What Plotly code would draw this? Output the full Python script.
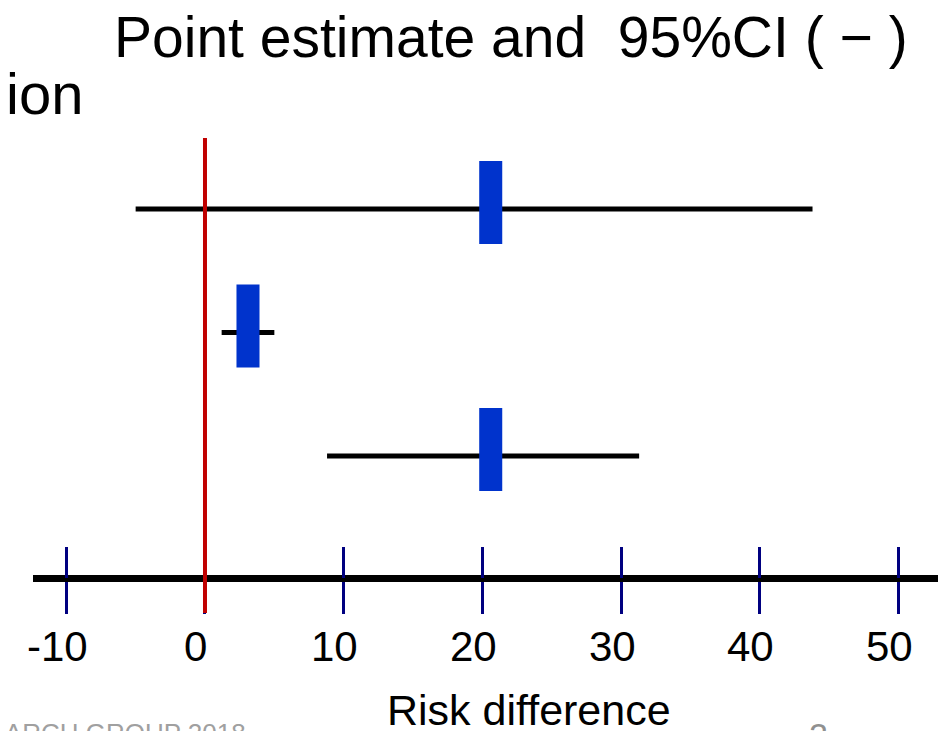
import plotly.graph_objects as go

# ---- data ----
rows = [0, 1, 2]
estimate = [20.6, 3.1, 20.6]
ci_low = [-5.0, 1.2, 8.8]
ci_high = [43.8, 5.0, 31.3]
tick_vals = [-10, 0, 10, 20, 30, 40, 50]
tick_labels = ["-10", "0", "10", "20", "30", "40", "50"]
null_value = 0

FONT = "Liberation Sans, Arial, sans-serif"
W, H = 946, 731
OFF = 8  # page body margin


def fx(px):
    return (px - OFF) / W


def fy(py):
    return 1 - (py - OFF) / H


ROW_PX = 123.5    # pixels per row
ROW0_PX = 209     # page y of first row
BOX_W = 1.66      # x-units
BOX_H = 83 / ROW_PX
BOX_DY = -6.5 / ROW_PX   # boxes sit slightly above the CI line
CI_H = 5 / ROW_PX

y_top = -(ROW0_PX - OFF) / ROW_PX
y_bot = (H + OFF - ROW0_PX) / ROW_PX


def ry(py):
    return (py - ROW0_PX) / ROW_PX


fig = go.Figure()
# CI lines (thin bars)
fig.add_trace(go.Bar(
    y=rows, x=[h - l for l, h in zip(ci_low, ci_high)], base=ci_low,
    orientation="h", width=CI_H, marker=dict(color="black", line=dict(width=0)),
    opacity=1, showlegend=False, hoverinfo="skip"))
# point estimates (blue boxes)
fig.add_trace(go.Bar(
    y=[r + BOX_DY for r in rows], x=[BOX_W] * len(rows),
    base=[e - BOX_W / 2 for e in estimate],
    orientation="h", width=BOX_H, marker=dict(color="#0033CC", line=dict(width=0)),
    opacity=1, showlegend=False, hoverinfo="skip"))

axis_pos = fy(578)

fig.update_layout(
    width=W, height=H, margin=dict(l=0, r=0, t=0, b=0),
    paper_bgcolor="white", plot_bgcolor="white",
    barmode="overlay", showlegend=False,
    xaxis=dict(domain=[fx(33), 1], range=[-12.40, 54.00],
               tickvals=tick_vals, ticks="outside", ticklen=32, tickwidth=3,
               tickcolor="#000080", showticklabels=False,
               showline=True, linewidth=7, linecolor="black",
               anchor="free", position=axis_pos,
               showgrid=False, zeroline=False),
    xaxis2=dict(overlaying="x", matches="x", anchor="free", position=axis_pos,
                tickvals=tick_vals, ticks="inside", ticklen=31, tickwidth=3,
                tickcolor="#000080", showticklabels=False, showline=False,
                showgrid=False, zeroline=False),
    yaxis=dict(range=[y_bot, y_top], visible=False, domain=[0, 1]),
)
# invisible trace so xaxis2 renders
fig.add_trace(go.Scatter(x=[tick_vals[0]], y=[rows[0]], xaxis="x2", mode="markers",
                         marker=dict(opacity=0), showlegend=False, hoverinfo="skip"))

# tick labels
for v, t in zip(tick_vals, tick_labels):
    fig.add_annotation(text=t, xref="x", yref="paper", x=v, y=fy(621), xshift=-9,
                       xanchor="center", yanchor="top", showarrow=False,
                       font=dict(size=42, family=FONT, color="black"))

# null-effect reference line
fig.add_shape(type="line", xref="x", yref="y", x0=null_value, x1=null_value,
              y0=ry(138), y1=ry(613), line=dict(color="#C00000", width=4), layer="above")

fig.add_annotation(text="Point estimate and\u00a0\u00a095%CI (\u00a0\u2212\u00a0)",
                   xref="paper", yref="paper", x=fx(112), y=fy(3),
                   xanchor="left", yanchor="top", showarrow=False,
                   font=dict(size=57, family=FONT, color="black"))
fig.add_annotation(text="ion", xref="paper", yref="paper", x=fx(85), y=fy(59),
                   xanchor="right", yanchor="top", showarrow=False,
                   font=dict(size=58, family=FONT, color="black"))
fig.add_annotation(text="Risk difference", xref="paper", yref="paper", x=fx(529), y=fy(684),
                   xanchor="center", yanchor="top", showarrow=False,
                   font=dict(size=43, family=FONT, color="black"))
fig.add_annotation(text="RESEARCH GROUP 2018", xref="paper", yref="paper", x=fx(248), y=fy(716),
                   xanchor="right", yanchor="top", showarrow=False,
                   font=dict(size=26, family=FONT, color="#A0A0A0"))
fig.add_annotation(text="2", xref="paper", yref="paper", x=fx(818), y=fy(714),
                   xanchor="center", yanchor="top", showarrow=False,
                   font=dict(size=34, family=FONT, color="#909090"))

fig.write_html("out.html")
